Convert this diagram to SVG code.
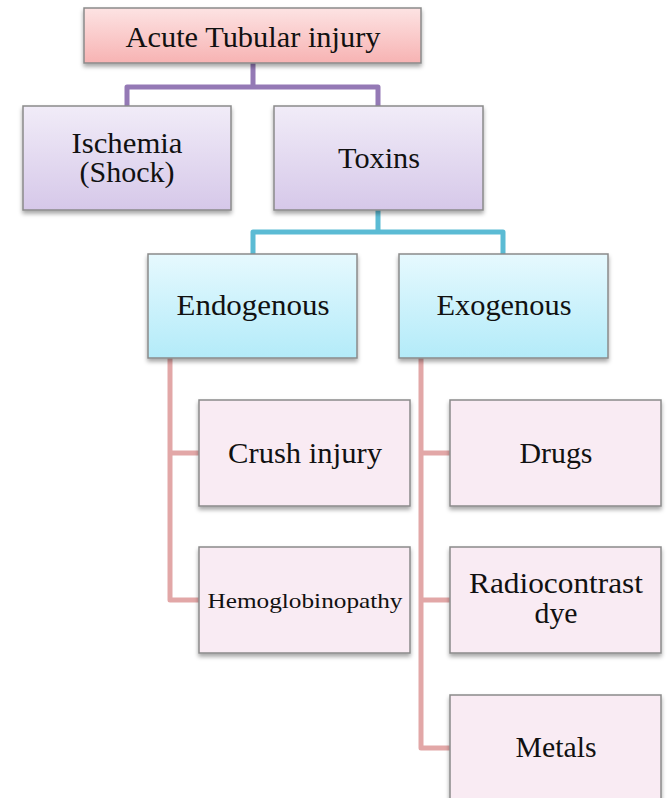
<svg xmlns="http://www.w3.org/2000/svg" width="668" height="798" viewBox="0 0 668 798">
<defs>
<linearGradient id="gPink" x1="0" y1="0" x2="0" y2="1"><stop offset="0" stop-color="#fde3e3"/><stop offset="1" stop-color="#f7b3b3"/></linearGradient>
<linearGradient id="gPurple" x1="0" y1="0" x2="0" y2="1"><stop offset="0" stop-color="#f1ecf8"/><stop offset="1" stop-color="#d6c8e9"/></linearGradient>
<linearGradient id="gBlue" x1="0" y1="0" x2="0" y2="1"><stop offset="0" stop-color="#e6f9fe"/><stop offset="1" stop-color="#b3ebf9"/></linearGradient>
<filter id="sh" x="-10%" y="-10%" width="120%" height="130%"><feDropShadow dx="0" dy="3" stdDeviation="2" flood-color="#000" flood-opacity="0.35"/></filter>
</defs>
<style>
.box{stroke:#8a8a8a;stroke-width:1.5;filter:url(#sh)}
.leaf{fill:#f9ebf3}
.t{font-family:"Liberation Serif","Times New Roman",serif;font-size:28.5px;fill:#111;text-anchor:middle}
.s{font-size:21px}
.c{fill:none;stroke-width:5;stroke-linejoin:round}
</style>
<g id="connectors">
<path class="c" stroke="#9479b5" d="M253 63V87H127V106M253 87H378V106"/>
<path class="c" stroke="#5bbbd4" d="M378 210V232H253V254M378 232H503V254"/>
<path class="c" stroke="#e2a7a7" d="M170 358V600H199M170 453H199"/>
<path class="c" stroke="#e2a7a7" d="M421 358V748H450M421 453H450M421 600H450"/>
</g>
<g id="n-acute"><rect class="box" x="84" y="8" width="337" height="55" fill="url(#gPink)"/><text class="t" x="253" y="47" textLength="255" lengthAdjust="spacingAndGlyphs">Acute Tubular injury</text></g>
<g id="n-ischemia"><rect class="box" x="23" y="106" width="208" height="104" fill="url(#gPurple)"/><text class="t" x="127" y="153" textLength="111" lengthAdjust="spacingAndGlyphs">Ischemia</text><text class="t" x="127" y="182" textLength="95" lengthAdjust="spacingAndGlyphs">(Shock)</text></g>
<g id="n-toxins"><rect class="box" x="274" y="106" width="209" height="104" fill="url(#gPurple)"/><text class="t" x="379" y="168" textLength="82" lengthAdjust="spacingAndGlyphs">Toxins</text></g>
<g id="n-endo"><rect class="box" x="148" y="254" width="209" height="104" fill="url(#gBlue)"/><text class="t" x="253" y="315" textLength="153" lengthAdjust="spacingAndGlyphs">Endogenous</text></g>
<g id="n-exo"><rect class="box" x="399" y="254" width="209" height="104" fill="url(#gBlue)"/><text class="t" x="504" y="315" textLength="135" lengthAdjust="spacingAndGlyphs">Exogenous</text></g>
<g id="n-crush"><rect class="box leaf" x="199" y="400" width="211" height="106"/><text class="t" x="305" y="463" textLength="154" lengthAdjust="spacingAndGlyphs">Crush injury</text></g>
<g id="n-hemo"><rect class="box leaf" x="199" y="547" width="211" height="106"/><text class="t s" x="305" y="608" textLength="195" lengthAdjust="spacingAndGlyphs">Hemoglobinopathy</text></g>
<g id="n-drugs"><rect class="box leaf" x="450" y="400" width="211" height="106"/><text class="t" x="556" y="463" textLength="73" lengthAdjust="spacingAndGlyphs">Drugs</text></g>
<g id="n-radio"><rect class="box leaf" x="450" y="547" width="211" height="106"/><text class="t" x="556" y="593" textLength="174" lengthAdjust="spacingAndGlyphs">Radiocontrast</text><text class="t" x="556" y="623" textLength="43" lengthAdjust="spacingAndGlyphs">dye</text></g>
<g id="n-metals"><rect class="box leaf" x="450" y="695" width="211" height="106"/><text class="t" x="556" y="757" textLength="81" lengthAdjust="spacingAndGlyphs">Metals</text></g>
</svg>
